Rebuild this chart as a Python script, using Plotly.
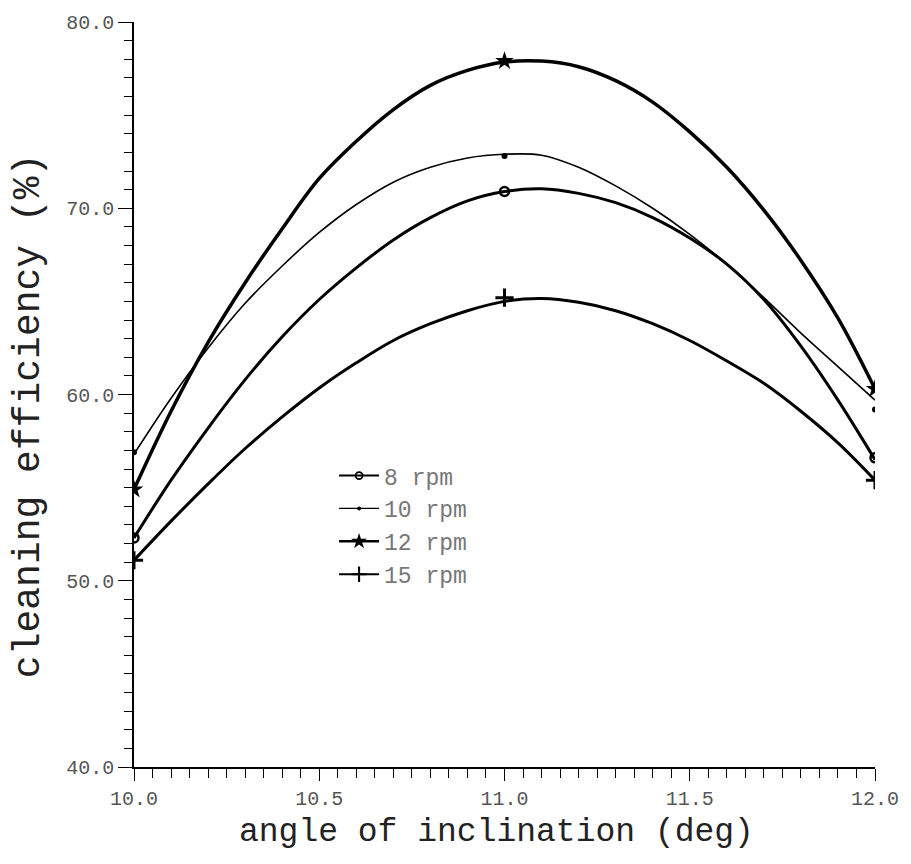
import plotly.graph_objects as go

# ---- data ----
series_names = ["8 rpm", "10 rpm", "12 rpm", "15 rpm"]

measured_angle = [10.0, 11.0, 12.0]
measured_8 = [52.3, 70.9, 56.6]
measured_10 = [56.9, 72.8, 59.2]
measured_12 = [54.9, 77.9, 60.3]
measured_15 = [51.1, 65.2, 55.4]

# fitted curves, every 0.1 deg
curve_angle = [10.0, 10.1, 10.2, 10.3, 10.4, 10.5, 10.6, 10.7, 10.8, 10.9, 11.0,
               11.1, 11.2, 11.3, 11.4, 11.5, 11.6, 11.7, 11.8, 11.9, 12.0]
curve_eff_8 = [52.3, 55.4, 58.2, 60.8, 63.1, 65.1, 66.8, 68.3, 69.5, 70.4, 70.9,
               71.05, 70.8, 70.3, 69.5, 68.4, 67.0, 65.1, 62.6, 59.7, 56.5]
curve_eff_10 = [56.8, 59.8, 62.5, 64.9, 66.9, 68.7, 70.2, 71.4, 72.2, 72.7, 72.9,
                72.85, 72.2, 71.2, 70.0, 68.6, 67.0, 65.2, 63.3, 61.5, 59.7]
curve_eff_12 = [54.9, 59.1, 62.8, 66.0, 68.9, 71.6, 73.6, 75.3, 76.6, 77.4, 77.85,
                77.9, 77.6, 76.85, 75.7, 74.1, 72.2, 69.9, 67.2, 64.1, 60.3]
curve_eff_15 = [51.1, 53.2, 55.2, 57.1, 58.8, 60.35, 61.7, 62.9, 63.8, 64.5, 65.0,
                65.15, 64.95, 64.5, 63.8, 62.9, 61.8, 60.6, 59.1, 57.4, 55.4]

x_tick_vals = [10.0, 10.5, 11.0, 11.5, 12.0]
x_tick_text = ["10.0", "10.5", "11.0", "11.5", "12.0"]
y_tick_vals = [40, 50, 60, 70, 80]
y_tick_text = ["40.0", "50.0", "60.0", "70.0", "80.0"]

x_title = "angle of inclination (deg)"
y_title = "cleaning efficiency (%)"

# ---- styles ----
styles = {
    "8 rpm": dict(width=3, symbol="circle-open", size=9, mlw=2.5),
    "10 rpm": dict(width=1.6, symbol="circle", size=6, mlw=0),
    "12 rpm": dict(width=3.5, symbol="star", size=14, mlw=0),
    "15 rpm": dict(width=3, symbol="cross-thin-open", size=13, mlw=3),
}

curves = {
    "8 rpm": (curve_eff_8, measured_8),
    "10 rpm": (curve_eff_10, measured_10),
    "12 rpm": (curve_eff_12, measured_12),
    "15 rpm": (curve_eff_15, measured_15),
}

FONT = "Liberation Mono"
fig = go.Figure()

for name in series_names:
    cy, my = curves[name]
    st = styles[name]
    fig.add_trace(go.Scatter(
        x=curve_angle, y=cy, mode="lines", showlegend=False,
        line=dict(color="black", width=st["width"], shape="spline", smoothing=1.0),
        hoverinfo="skip"))
    fig.add_trace(go.Scatter(
        x=measured_angle, y=my, mode="markers", showlegend=False,
        marker=dict(symbol=st["symbol"], size=st["size"], color="black",
                    line=dict(color="black", width=st["mlw"]))))
    # legend-only entry
    fig.add_trace(go.Scatter(
        x=[None], y=[None], mode="lines+markers", name=name,
        line=dict(color="black", width=max(st["width"] - 1, 1.2)),
        marker=dict(symbol=st["symbol"], size=st["size"] - 2, color="black",
                    line=dict(color="black", width=st["mlw"] * 0.7))))

fig.update_layout(
    width=911, height=864,
    margin=dict(l=134, r=35, t=20, b=97),
    paper_bgcolor="white", plot_bgcolor="white",
    font=dict(family=FONT, color="#222"),
    legend=dict(x=0.27, y=0.42, xanchor="left", yanchor="top",
                bgcolor="rgba(0,0,0,0)", borderwidth=0,
                font=dict(family=FONT, size=23, color="#777"),
                tracegroupgap=0, itemwidth=40),
    xaxis=dict(
        range=[10, 12], showgrid=False, zeroline=False,
        showline=True, linecolor="black", linewidth=2,
        tickmode="array", tickvals=x_tick_vals, ticktext=x_tick_text,
        ticks="outside", ticklen=12, tickwidth=1.3, tickcolor="black",
        tickfont=dict(family=FONT, size=20, color="#555"),
        minor=dict(dtick=0.05, ticks="outside", ticklen=9, tickwidth=1.2, tickcolor="black"),
    ),
    yaxis=dict(
        range=[40, 80], showgrid=False, zeroline=False,
        showline=True, linecolor="black", linewidth=1.5,
        tickmode="array", tickvals=y_tick_vals, ticktext=y_tick_text,
        ticks="outside", ticklen=14, tickwidth=1.3, tickcolor="black",
        tickfont=dict(family=FONT, size=20, color="#555"),
        minor=dict(dtick=1, ticks="outside", ticklen=8, tickwidth=1.2, tickcolor="black"),
    ),
    annotations=[
        dict(text=x_title, xref="paper", yref="paper", x=0.489, y=-0.088,
             xanchor="center", yanchor="middle", showarrow=False,
             font=dict(family=FONT, size=33, color="#222")),
        dict(text=y_title, xref="paper", yref="paper", x=-0.143, y=0.471,
             xanchor="center", yanchor="middle", showarrow=False, textangle=-90,
             font=dict(family=FONT, size=38, color="#222")),
    ],
)

fig.write_html("out.html")
